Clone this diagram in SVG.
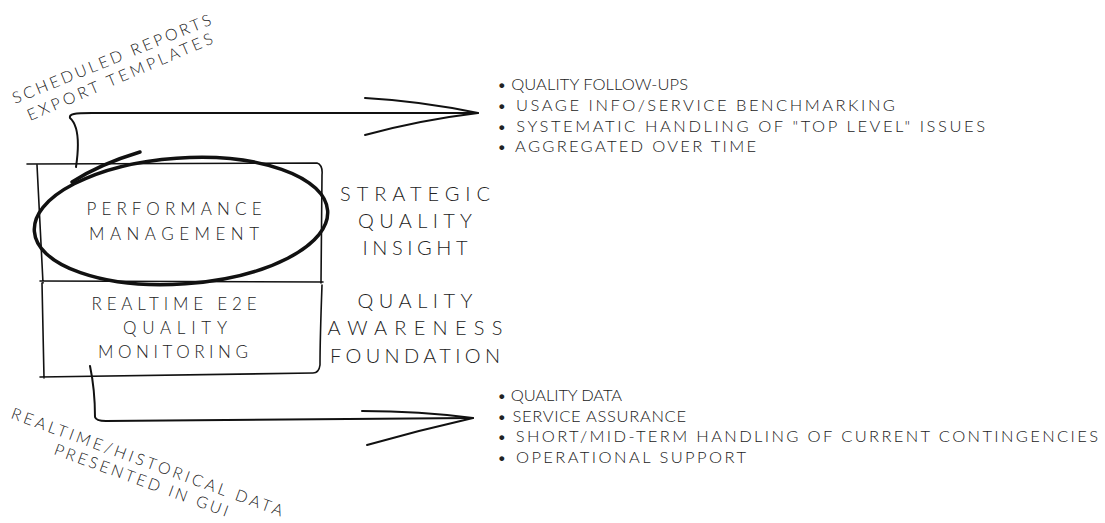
<svg xmlns="http://www.w3.org/2000/svg" width="1105" height="523" viewBox="0 0 1105 523">
<style>
.t{font-family:"Lato","Liberation Sans",sans-serif;font-weight:300;fill:#222;}
.s{fill:none;stroke:#111;stroke-linecap:round;stroke-linejoin:round;}
.box{stroke-width:1.6;}
.arr{stroke-width:2;}
.b{font-size:16.5px;}
</style>
<rect width="1105" height="523" fill="#fff"/>
<g id="connectors">
<path class="s arr" d="M76,167 C80,140 78,125 70,118 C69,114 74,113 92,113 L478,113"/>
<path class="s arr" d="M365,98 Q420,101 478,113 M365,135 Q420,120 478,113"/>
<path class="s arr" d="M90,366 C94,385 95,405 95,417 Q96,421 106,421 L473,418"/>
<path class="s arr" d="M362,411 Q420,411 473,418 M367,445 Q420,430 473,418"/>
</g>
<g id="performance-management">
<path class="s box" d="M27,164 L317,163 Q323,165 322,175 L321,283 M37,165 L43,283 M40,281 L323,282"/>
<ellipse class="s" cx="181" cy="221" rx="147" ry="63" transform="rotate(-4 181 221)" stroke-width="3.5"/>
<path class="s" d="M72,182 Q100,164 140,152" stroke-width="3.5"/>
<text class="t" x="174" y="215" font-size="17" text-anchor="middle" textLength="175" lengthAdjust="spacing">PERFORMANCE</text>
<text class="t" x="174" y="240" font-size="17" text-anchor="middle" textLength="170" lengthAdjust="spacing">MANAGEMENT</text>
</g>
<g id="realtime-monitoring">
<path class="s box" d="M42,283 L44,378 M322,285 Q320,340 320,365 Q319,373 313,373 M40,377 L313,373"/>
<text class="t" x="174" y="310" font-size="17" text-anchor="middle" textLength="165" lengthAdjust="spacing">REALTIME E2E</text>
<text class="t" x="175" y="334" font-size="17" text-anchor="middle" textLength="104" lengthAdjust="spacing">QUALITY</text>
<text class="t" x="173" y="358" font-size="17" text-anchor="middle" textLength="150" lengthAdjust="spacing">MONITORING</text>
</g>
<g id="strategic-label">
<text class="t" x="415" y="201" font-size="20" text-anchor="middle" textLength="150" lengthAdjust="spacing">STRATEGIC</text>
<text class="t" x="415" y="228" font-size="20" text-anchor="middle" textLength="114" lengthAdjust="spacing">QUALITY</text>
<text class="t" x="415" y="255" font-size="20" text-anchor="middle" textLength="105" lengthAdjust="spacing">INSIGHT</text>
</g>
<g id="foundation-label">
<text class="t" x="415" y="308" font-size="20" text-anchor="middle" textLength="115" lengthAdjust="spacing">QUALITY</text>
<text class="t" x="415" y="335" font-size="20" text-anchor="middle" textLength="175" lengthAdjust="spacing">AWARENESS</text>
<text class="t" x="415" y="363" font-size="20" text-anchor="middle" textLength="170" lengthAdjust="spacing">FOUNDATION</text>
</g>
<g id="reports-label">
<text class="t" x="15" y="104" font-size="16" transform="rotate(-22 15 104)" textLength="213" lengthAdjust="spacing">SCHEDULED REPORTS</text>
<text class="t" x="30" y="121" font-size="16" transform="rotate(-23 30 121)" textLength="200" lengthAdjust="spacing">EXPORT TEMPLATES</text>
</g>
<g id="gui-label">
<text class="t" x="10" y="418" font-size="16" transform="rotate(20 10 418)" textLength="288" lengthAdjust="spacing">REALTIME/HISTORICAL DATA</text>
<text class="t" x="53" y="454" font-size="16" transform="rotate(20 53 454)" textLength="184" lengthAdjust="spacing">PRESENTED IN GUI</text>
</g>
<g id="strategic-bullets">
<text class="t b" x="497" y="90" textLength="191" lengthAdjust="spacing">• QUALITY FOLLOW-UPS</text>
<text class="t b" x="497" y="111" textLength="398" lengthAdjust="spacing">• USAGE INFO/SERVICE BENCHMARKING</text>
<text class="t b" x="497" y="132" textLength="488" lengthAdjust="spacing">• SYSTEMATIC HANDLING OF "TOP LEVEL" ISSUES</text>
<text class="t b" x="497" y="152" textLength="259" lengthAdjust="spacing">• AGGREGATED OVER TIME</text>
</g>
<g id="foundation-bullets">
<text class="t b" x="497" y="401" textLength="125" lengthAdjust="spacing">• QUALITY DATA</text>
<text class="t b" x="497" y="422" textLength="189" lengthAdjust="spacing">• SERVICE ASSURANCE</text>
<text class="t b" x="497" y="442" textLength="601" lengthAdjust="spacing">• SHORT/MID-TERM HANDLING OF CURRENT CONTINGENCIES</text>
<text class="t b" x="497" y="463" textLength="249" lengthAdjust="spacing">• OPERATIONAL SUPPORT</text>
</g>
</svg>
